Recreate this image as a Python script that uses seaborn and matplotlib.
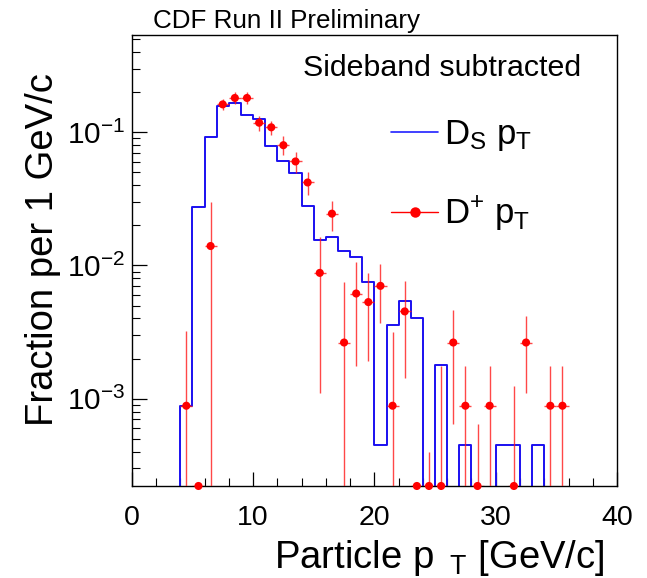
import numpy as np
import pandas as pd
import matplotlib
matplotlib.use("Agg")
import matplotlib.pyplot as plt
from matplotlib.ticker import MultipleLocator, LogLocator, NullFormatter
from matplotlib.lines import Line2D
import seaborn as sns

# ---------------- data ----------------
bin_edges = list(range(0, 41))  # 1 GeV/c bins, 0..40
ds_fraction = [
    0, 0, 0, 0, 8.8e-4, 0.0275, 0.092, 0.157, 0.165, 0.135,
    0.125, 0.079, 0.0614, 0.0493, 0.0279, 0.0156, 0.0163, 0.0129, 0.0116, 0.00753,
    4.47e-4, 0.00357, 0.00537, 0.00401, 0, 0.00178, 0, 4.47e-4, 0, 0,
    4.47e-4, 4.47e-4, 0, 4.47e-4, 0, 0, 0, 0, 0, 0,
]
dplus_pt = [4.5, 5.5, 6.5, 7.5, 8.5, 9.5, 10.5, 11.5, 12.5, 13.5,
            14.5, 15.5, 16.5, 17.5, 18.5, 19.5, 20.5, 21.5, 22.5, 23.5,
            24.5, 25.5, 26.5, 27.5, 28.5, 29.5, 31.5, 32.5, 34.5, 35.5]
dplus_fraction = [8.85e-4, 0, 0.0140, 0.162, 0.181, 0.181, 0.118, 0.109, 0.080, 0.0604,
                  0.042, 0.0088, 0.0245, 0.00264, 0.00616, 0.00531, 0.00703, 8.85e-4, 0.00452, 0,
                  0, 0, 0.00264, 8.85e-4, 0, 8.85e-4, 0, 0.00264, 8.85e-4, 8.85e-4]
dplus_error = [2.33e-3, 0, 0.0159, 0.016, 0.019, 0.019, 0.015, 0.013, 0.013, 0.0107,
               0.0083, 0.0077, 0.0062, 0.0049, 0.0044, 0.0034, 0.0033, 0.0023, 0.0031, 0,
               3.96e-4, 0.00176, 0.0020, 8.8e-4, 6.5e-4, 8.8e-4, 0.00125, 0.00153, 8.8e-4, 8.8e-4]
y_tick_decades = [1e-3, 1e-2, 1e-1]
x_major_ticks = [0, 10, 20, 30, 40]

# ---------------- style ----------------
sns.set_style("ticks")
plt.rcParams["font.family"] = ["Liberation Sans", "DejaVu Sans"]
plt.rcParams["mathtext.fontset"] = "custom"
plt.rcParams["mathtext.rm"] = "Liberation Sans"
plt.rcParams["mathtext.it"] = "Liberation Sans:italic"
plt.rcParams["mathtext.bf"] = "Liberation Sans:bold"
plt.rcParams["mathtext.default"] = "regular"
for key in ["text.color", "axes.labelcolor", "xtick.color", "ytick.color",
            "xtick.labelcolor", "ytick.labelcolor", "axes.edgecolor"]:
    plt.rcParams[key] = "black"

YMIN, YMAX = 2.21e-4, 0.538
DS_COLOR = "#1a0ff0"

fig = plt.figure(figsize=(6.47, 5.78), dpi=100)
ax = fig.add_axes([0.2036, 0.1592, 0.7501, 0.7803])

# Ds histogram as a step line
ds_df = pd.DataFrame({"pt": bin_edges, "frac": ds_fraction + [ds_fraction[-1]]})
sns.lineplot(data=ds_df, x="pt", y="frac", drawstyle="steps-post", color=DS_COLOR,
             lw=1.4, ax=ax, estimator=None, sort=False, zorder=2)

# D+ points with errors
dp = pd.DataFrame({"pt": dplus_pt, "frac": dplus_fraction, "err": dplus_error})
dp["yplot"] = dp["frac"].clip(lower=YMIN)
lo = dp["yplot"] - (dp["frac"] - dp["err"]).clip(lower=YMIN)
hi = (dp["frac"] + dp["err"]) - dp["yplot"]
hi = hi.clip(lower=0)
ax.errorbar(dp["pt"], dp["yplot"], yerr=[lo, hi], xerr=0.5, fmt="none",
            ecolor=(1, 0.1, 0.1, 0.8), elinewidth=1.0, capsize=0, zorder=3)
sns.scatterplot(data=dp, x="pt", y="yplot", color="#ff0000", s=34, edgecolor="none",
                ax=ax, zorder=4, clip_on=False, legend=False)

ax.set_yscale("log")
ax.set_xlim(0, 40)
ax.set_ylim(YMIN, YMAX)
ax.set_yticks(y_tick_decades)
ax.yaxis.set_minor_locator(LogLocator(base=10, subs=np.arange(2, 10)))
ax.yaxis.set_minor_formatter(NullFormatter())
ax.set_xticks(x_major_ticks)
ax.set_xticklabels([str(t) for t in x_major_ticks])
ax.xaxis.set_minor_locator(MultipleLocator(2))

for s in ax.spines.values():
    s.set_color("black")
    s.set_linewidth(1.0)

ax.tick_params(axis="both", which="both", direction="in", top=False, right=False,
               color="black", labelcolor="black")
ax.tick_params(axis="y", which="major", length=11, width=0.9, labelsize=21.5, pad=4.5)
ax.tick_params(axis="y", which="minor", length=5.5, width=0.8)
ax.tick_params(axis="x", which="major", length=10, width=0.9, labelsize=20.5, pad=14)
ax.tick_params(axis="x", which="minor", length=5.5, width=0.8)

ax.set_xlabel(r"Particle p $\,_{\mathrm{T}}$ [GeV/c]", fontsize=27.5, loc="right",
              va="baseline", color="black")
ax.xaxis.set_label_coords(0.975, -0.1818)
ax.set_ylabel("Fraction per 1 GeV/c", fontsize=27.5, loc="top", va="baseline", color="black")
ax.yaxis.set_label_coords(-0.1622, 0.9157)

fig.text(153 / 647, 1 - 28 / 578, "CDF Run II Preliminary", fontsize=18.7,
         ha="left", va="baseline", color="black")
ax.text(0.927, 0.909, "Sideband subtracted", fontsize=21.9, ha="right", va="baseline",
        transform=ax.transAxes, color="black")

h1 = Line2D([], [], color="#2020ff", lw=1.2)
h2 = Line2D([], [], color="red", lw=1.0, marker="o", markersize=7.5, markeredgewidth=0)
leg = ax.legend([h1, h2], [r"D$_{\mathrm{S}}$ p$_{\mathrm{T}}$", r"D$^{+}$ p$_{\mathrm{T}}$"],
                loc="center left", bbox_to_anchor=(0.534, 0.688), frameon=False, fontsize=25,
                handlelength=1.37, handletextpad=0.15, labelspacing=1.2, borderpad=0,
                borderaxespad=0)
for t in leg.get_texts():
    t.set_color("black")

fig.savefig("out.png", dpi=100)
